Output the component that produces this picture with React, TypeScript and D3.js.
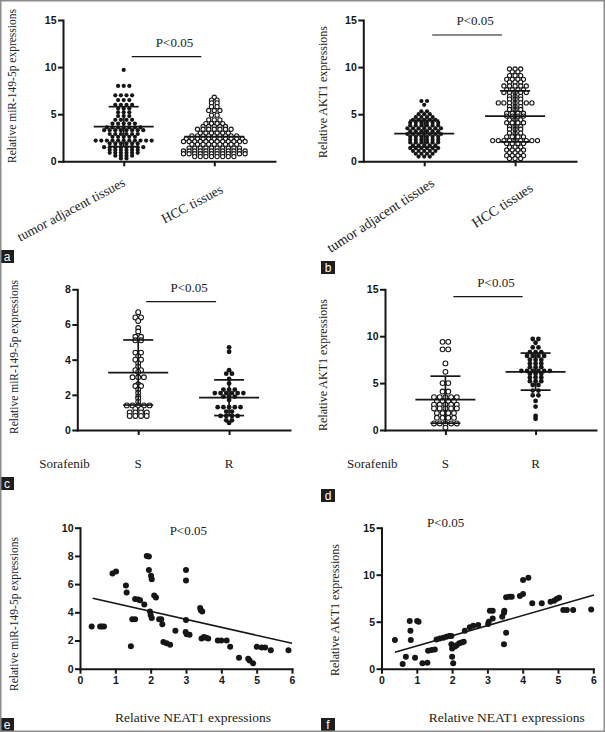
import React, { useEffect, useRef } from 'react';
import * as d3 from 'd3';

// ---- panel a / b : tissues ----
const tissueGroups = ['tumor adjacent tissues', 'HCC tissues'];

const aTumor = [
  9.7,
  8.0, 8.0, 8.0,
  7.0, 7.0, 7.0, 7.0,
  6.5, 6.5, 6.5,
  6.0, 6.0, 6.0, 6.0,
  5.6, 5.6, 5.6,
  5.2, 5.2, 5.2,
  4.8, 4.8, 4.8,
  4.4, 4.4, 4.4, 4.4,
  4.0, 4.0, 4.0, 4.0, 4.0,
  3.6, 3.6, 3.6, 3.6, 3.6, 3.6, 3.6,
  3.3, 3.3, 3.3, 3.3, 3.3, 3.3, 3.3, 3.3,
  2.9, 2.9, 2.9, 2.9, 2.9, 2.9,
  2.6, 2.6, 2.6, 2.6, 2.6,
  2.2, 2.2, 2.2, 2.2, 2.2, 2.2, 2.2, 2.2, 2.2, 2.2, 2.2,
  1.9, 1.9, 1.9, 1.9, 1.9, 1.9,
  1.5, 1.5, 1.5, 1.5, 1.5, 1.5, 1.5, 1.5,
  1.2, 1.2, 1.2, 1.2, 1.2, 1.2,
  0.9, 0.9, 0.9, 0.9, 0.9, 0.9,
  0.6, 0.6, 0.6, 0.6,
  0.3, 0.3,
];
const aHcc = [
  6.8,
  6.5, 6.5,
  6.2, 6.2,
  5.8, 5.8,
  5.4, 5.4, 5.4,
  4.9, 4.9,
  4.4, 4.4, 4.4,
  4.0, 4.0, 4.0, 4.0,
  3.7, 3.7, 3.7, 3.7, 3.7,
  3.4, 3.4, 3.4, 3.4, 3.4, 3.4, 3.4,
  3.0, 3.0, 3.0, 3.0, 3.0, 3.0,
  2.7, 2.7, 2.7, 2.7, 2.7, 2.7, 2.7, 2.7, 2.7,
  2.4, 2.4, 2.4, 2.4, 2.4, 2.4, 2.4, 2.4, 2.4, 2.4, 2.4,
  2.1, 2.1, 2.1, 2.1, 2.1, 2.1, 2.1, 2.1, 2.1, 2.1, 2.1, 2.1,
  1.8, 1.8, 1.8, 1.8, 1.8, 1.8, 1.8, 1.8, 1.8,
  1.4, 1.4, 1.4, 1.4, 1.4, 1.4, 1.4, 1.4, 1.4, 1.4,
  1.1, 1.1, 1.1, 1.1, 1.1, 1.1, 1.1, 1.1, 1.1, 1.1, 1.1, 1.1,
  0.8, 0.8, 0.8, 0.8, 0.8, 0.8, 0.8, 0.8, 0.8, 0.8, 0.8, 0.8,
  0.5, 0.5, 0.5, 0.5, 0.5, 0.5, 0.5, 0.5,
];
// mean, +SD, -SD (only mean where no bar is visible)
const aTumorStats = [3.68, 5.8, 1.56];
const aHccStats = [2.62];

const bTumor = [
  6.4, 6.4,
  6.0,
  5.3, 5.3,
  5.0, 5.0, 5.0,
  4.7, 4.7, 4.7, 4.7,
  4.4, 4.4, 4.4, 4.4, 4.4,
  4.1, 4.1, 4.1, 4.1, 4.1, 4.1,
  3.8, 3.8, 3.8, 3.8, 3.8, 3.8,
  3.5, 3.5, 3.5, 3.5, 3.5, 3.5, 3.5,
  3.2, 3.2, 3.2, 3.2, 3.2, 3.2,
  2.9, 2.9, 2.9, 2.9, 2.9, 2.9, 2.9,
  2.6, 2.6, 2.6, 2.6, 2.6, 2.6,
  2.3, 2.3, 2.3, 2.3, 2.3, 2.3,
  2.0, 2.0, 2.0, 2.0, 2.0, 2.0,
  1.7, 1.7, 1.7, 1.7, 1.7,
  1.4, 1.4, 1.4, 1.4, 1.4, 1.4,
  1.1, 1.1, 1.1, 1.1, 1.1,
  0.8, 0.8, 0.8, 0.8,
  0.5, 0.5, 0.5,
];
const bHcc = [
  9.8, 9.8, 9.8,
  9.5, 9.5,
  9.1, 9.1, 9.1,
  8.7, 8.7, 8.7, 8.7,
  8.4, 8.4, 8.4,
  8.0, 8.0, 8.0, 8.0, 8.0,
  7.6, 7.6, 7.6, 7.6,
  7.3, 7.3, 7.3, 7.3, 7.3,
  6.9, 6.9, 6.9,
  6.6, 6.6, 6.6,
  6.2, 6.2, 6.2, 6.2, 6.2, 6.2, 6.2,
  5.8, 5.8, 5.8,
  5.5, 5.5, 5.5,
  5.1, 5.1, 5.1, 5.1,
  4.8, 4.8, 4.8, 4.8,
  4.4, 4.4, 4.4,
  4.1, 4.1, 4.1, 4.1,
  3.7, 3.7, 3.7,
  3.4, 3.4, 3.4,
  3.0, 3.0, 3.0,
  2.6, 2.6, 2.6, 2.6,
  2.2, 2.2, 2.2, 2.2, 2.2, 2.2, 2.2, 2.2, 2.2,
  1.9, 1.9, 1.9, 1.9,
  1.5, 1.5, 1.5,
  1.2, 1.2, 1.2, 1.2,
  0.9, 0.9, 0.9,
  0.6, 0.6, 0.6, 0.6,
  0.3, 0.3, 0.3,
];
const bTumorStats = [2.94, 4.36, 1.52];
const bHccStats = [4.79, 7.48, 2.06];

// ---- panel c / d : sorafenib S vs R ----
const sorafenibGroups = ['S', 'R'];

const cS = [
  6.7, 6.4, 6.4, 6.2, 5.8, 5.6, 5.3, 5.3, 5.1, 5.1,
  4.4, 4.4, 4.2, 4.0, 4.0, 3.8, 3.6, 3.4, 3.4, 3.3,
  3.0, 3.0, 3.0, 2.6, 2.5, 2.5, 2.3, 2.1, 1.9, 1.8, 1.6,
  1.4, 1.4, 1.4, 1.4, 1.4,
  1.2, 1.2,
  1.0, 1.0, 1.0, 1.0,
  0.8, 0.8, 0.8, 0.8,
];
const cR = [
  4.7, 4.45, 3.4, 3.2, 3.2, 2.9, 2.65,
  2.3, 2.3, 2.3,
  2.1, 2.1, 2.1, 2.1, 2.1, 2.1,
  1.9, 1.9, 1.9,
  1.7,
  1.3, 1.3, 1.3, 1.3, 1.3,
  1.05, 1.05,
  0.8, 0.8, 0.8, 0.8,
  0.55, 0.55,
  0.4,
];
const cSStats = [3.26, 5.12, 1.42];
const cRStats = [1.84, 2.85, 0.82];

const dS = [
  9.4, 9.4, 8.6, 8.6, 7.1, 6.2, 5.0, 5.0, 4.1, 4.1,
  3.5, 3.5, 3.5, 3.5, 3.5,
  3.1, 3.1, 3.1, 3.1,
  2.7, 2.7, 2.7, 2.7, 2.7,
  2.3, 2.3, 2.3, 2.3, 2.3,
  1.8, 1.8, 1.8, 1.8,
  1.3, 1.3, 1.3, 1.3,
  0.7, 0.7, 0.7, 0.7, 0.7,
  0.25,
];
const dR = [
  9.7, 9.7, 9.3, 8.8, 8.8,
  8.3, 8.3, 8.3,
  7.9, 7.9, 7.9, 7.9,
  7.5, 7.5, 7.5,
  7.1, 7.1, 7.1,
  6.7, 6.7, 6.7,
  6.3, 6.3, 6.3, 6.3, 6.3, 6.3,
  6.0, 6.0, 6.0,
  5.6, 5.6, 5.6,
  5.2, 5.2, 5.2,
  4.8, 4.8,
  4.2, 4.2,
  3.7, 3.7,
  3.1, 2.5, 1.5, 1.2,
];
const dSStats = [3.23, 5.74, 0.73];
const dRStats = [6.2, 8.2, 4.25];

// ---- panel e / f : correlation with NEAT1 ----
const eNeat = [
  0.33, 0.57, 0.62, 0.68, 0.92, 1.02, 1.3, 1.32, 1.44, 1.48, 1.56, 1.56, 1.65, 1.7, 1.82,
  1.89, 1.95, 1.95, 2.01, 2.03, 1.98, 2.0, 2.03, 2.1, 2.15, 2.24, 2.3, 2.33, 2.36, 2.45,
  2.55, 2.7, 3.0, 3.0, 3.0, 2.99, 3.02, 3.1, 3.4, 3.42, 3.46, 3.44, 3.51, 3.57, 3.63,
  3.9, 4.0, 4.15, 4.25, 4.5, 4.76, 4.8, 4.9, 5.0, 5.14, 5.24, 5.4, 5.9,
];
const eMir = [
  3.0, 3.0, 3.0, 3.0, 6.75, 6.9, 5.9, 5.4, 1.6, 3.5, 3.5, 4.95, 4.9, 4.85, 4.55,
  8.0, 7.95, 7.0, 6.6, 6.35, 4.05, 3.8, 3.6, 5.2, 5.05, 3.5, 3.5, 3.15, 1.9, 1.8,
  1.7, 2.7, 7.0, 6.25, 3.45, 2.6, 2.45, 2.4, 4.3, 4.15, 4.05, 2.15, 2.25, 2.2, 2.15,
  2.0, 2.0, 2.0, 1.55, 0.78, 0.7, 0.58, 0.38, 1.55, 1.5, 1.5, 1.3, 1.3,
];
const eFit = [[0.36, 4.99], [6.0, 1.8]];

const fNeat = [
  0.38, 0.6, 0.69, 0.8, 0.82, 0.83, 0.95, 1.01, 1.05, 1.16, 1.3, 1.32, 1.42, 1.51, 1.56,
  1.65, 1.75, 1.84, 1.92, 1.98, 1.98, 2.0, 2.0, 2.03, 2.08, 2.13, 2.2, 2.27, 2.33, 2.36,
  2.5, 2.6, 2.74, 3.02, 3.04, 3.07, 3.15, 3.15, 3.42, 3.47, 3.48, 3.47, 3.53, 3.53, 3.62,
  3.69, 3.92, 4.01, 4.01, 4.16, 4.27, 4.54, 4.79, 4.89, 4.96, 5.03, 5.15, 5.25, 5.43, 5.94,
];
const fAkt = [
  3.05, 0.5, 1.28, 5.07, 4.04, 3.05, 1.17, 5.07, 5.0, 0.57, 0.64, 1.9, 1.98, 2.05, 3.1,
  3.2, 3.3, 3.4, 3.47, 3.47, 2.6, 2.15, 1.28, 0.57, 2.35, 2.5, 2.7, 2.8, 2.87, 4.04,
  4.4, 4.57, 4.65, 4.75, 5.0, 6.17, 6.17, 5.35, 5.53, 5.96, 6.17, 2.59, 3.83, 7.59, 7.66,
  7.66, 7.73, 7.94, 9.43, 9.68, 6.95, 6.95, 7.13, 7.23, 7.41, 7.55, 6.24, 6.24, 6.24, 6.31,
];
const fFit = [[0.38, 1.74], [6.02, 7.84]];

const neatTicks = [0, 1, 2, 3, 4, 5, 6];
const panelLetters = ['a', 'b', 'c', 'd', 'e', 'f'];

const SERIF = '"Liberation Serif", "Times New Roman", serif';
const SANS = '"Liberation Sans", Arial, sans-serif';
const INK = '#161616';

type Sel = d3.Selection<SVGSVGElement, unknown, null, undefined>;

function styleAxis(g: any) {
  g.attr('font-family', SANS).attr('font-size', 10.5).attr('font-weight', 700);
  g.select('.domain').attr('stroke', INK).attr('stroke-width', 2).attr('stroke-linecap', 'square');
  g.selectAll('.tick line').attr('stroke', INK).attr('stroke-width', 2);
  g.selectAll('.tick text').attr('fill', INK);
}

function yTitle(svg: Sel, text: string, cx: number, cy: number, size: number) {
  svg.append('g')
    .attr('transform', `translate(${cx},${cy})`)
    .append('text')
    .attr('transform', 'rotate(-90)')
    .attr('dy', '0.35em')
    .attr('text-anchor', 'middle')
    .attr('font-family', SERIF)
    .attr('font-size', size)
    .attr('fill', '#222')
    .text(text);
}

function drawDotPanel(svg: Sel, p: any) {
  const x = d3.scalePoint<string>().domain(p.cats).range([p.x0, p.x1]).padding(0.67);
  const y = d3.scaleLinear().domain([0, p.yMax]).range([p.yBottom, p.yTop]);

  // dots, rows of equal value spread sideways like a GraphPad scatter dot plot
  p.groups.forEach((grp: any, gi: number) => {
    const cx = x(p.cats[gi])!;
    const pts = d3.groups(grp.values as number[], v => v).flatMap(([v, list]) =>
      list.map((_, i) => ({ x: cx + (i - (list.length - 1) / 2) * p.spacing, y: y(v) })));
    svg.append('g')
      .selectAll('circle')
      .data(pts)
      .join('circle')
      .attr('cx', d => d.x)
      .attr('cy', d => d.y)
      .attr('r', p.r)
      .attr('fill', grp.open ? '#fff' : INK)
      .attr('stroke', grp.open ? INK : 'none')
      .attr('stroke-width', 1.1);
  });

  // mean +/- SD
  p.groups.forEach((grp: any, gi: number) => {
    const cx = x(p.cats[gi])!;
    const [m, hi, lo] = grp.stats;
    const s = svg.append('g').attr('stroke', INK).attr('stroke-width', 1.7);
    s.append('line').attr('x1', cx - 30).attr('x2', cx + 30).attr('y1', y(m)).attr('y2', y(m));
    if (hi !== undefined) {
      s.append('line').attr('x1', cx).attr('x2', cx).attr('y1', y(hi)).attr('y2', y(lo));
      s.append('line').attr('x1', cx - 15).attr('x2', cx + 15).attr('y1', y(hi)).attr('y2', y(hi));
      s.append('line').attr('x1', cx - 15).attr('x2', cx + 15).attr('y1', y(lo)).attr('y2', y(lo));
    }
  });

  // axes
  svg.append('g')
    .attr('transform', `translate(${p.x0},0)`)
    .call(d3.axisLeft(y).tickValues(p.yTicks).tickSize(5).tickSizeOuter(0).tickPadding(1.5))
    .call(styleAxis);
  svg.append('g')
    .attr('transform', `translate(0,${p.yBottom})`)
    .call(d3.axisBottom(x).tickSize(5).tickSizeOuter(0).tickFormat(() => ''))
    .call(styleAxis);

  yTitle(svg, p.yTitle, p.yTitleX, p.yTitleY, p.yTitleSize);

  // significance bracket
  const lx1 = x(p.cats[0])! + 8;
  const lx2 = x(p.cats[1])! - 13;
  svg.append('line')
    .attr('x1', lx1).attr('x2', lx2).attr('y1', p.pY).attr('y2', p.pY)
    .attr('stroke', INK).attr('stroke-width', 1.2);
  svg.append('text')
    .attr('x', (lx1 + lx2) / 2 + 8)
    .attr('y', p.pY - 10)
    .attr('text-anchor', 'middle')
    .attr('font-family', SERIF)
    .attr('font-size', 13)
    .attr('fill', '#222')
    .text('P<0.05');

  // category labels
  if (p.rotate) {
    p.cats.forEach((c: string, i: number) => {
      const [dx, dy] = p.labelOffsets[i];
      svg.append('g')
        .attr('transform', `translate(${x(c)! + dx},${p.yBottom + dy})`)
        .append('text')
        .attr('transform', `rotate(${-p.rotate})`)
        .attr('text-anchor', 'end')
        .attr('font-family', SERIF)
        .attr('font-size', p.labelSize)
        .attr('fill', '#222')
        .text(c);
    });
  } else {
    p.cats.forEach((c: string) => {
      svg.append('text')
        .attr('x', x(c)!)
        .attr('y', 468)
        .attr('text-anchor', 'middle')
        .attr('font-family', SERIF)
        .attr('font-size', 13)
        .attr('fill', '#222')
        .text(c);
    });
    svg.append('text')
      .attr('x', p.x0 - 38)
      .attr('y', 468)
      .attr('font-family', SERIF)
      .attr('font-size', 13)
      .attr('fill', '#222')
      .text('Sorafenib');
  }
}

function drawScatter(svg: Sel, p: any) {
  const x = d3.scaleLinear().domain([0, 6]).range([p.x0, p.x1]);
  const y = d3.scaleLinear().domain([0, p.yMax]).range([p.yBottom, p.yTop]);
  const pts = d3.zip(p.xs as number[], p.ys as number[]);

  svg.append('g')
    .selectAll('circle')
    .data(pts)
    .join('circle')
    .attr('cx', d => x(d[0]))
    .attr('cy', d => y(d[1]))
    .attr('r', 3)
    .attr('fill', INK);

  svg.append('path')
    .datum(p.fit as [number, number][])
    .attr('d', d3.line<[number, number]>().x(d => x(d[0])).y(d => y(d[1])))
    .attr('stroke', INK)
    .attr('stroke-width', 1.6)
    .attr('fill', 'none');

  svg.append('g')
    .attr('transform', `translate(${p.x0},0)`)
    .call(d3.axisLeft(y).tickValues(p.yTicks).tickSize(5).tickSizeOuter(0).tickPadding(1.5))
    .call(styleAxis);
  svg.append('g')
    .attr('transform', `translate(0,${p.yBottom})`)
    .call(d3.axisBottom(x).tickValues(neatTicks).tickSize(5).tickSizeOuter(0).tickPadding(3).tickFormat(d3.format('d')))
    .call(styleAxis);

  yTitle(svg, p.yTitle, p.yTitleX, p.yTitleY, p.yTitleSize);

  svg.append('text')
    .attr('x', p.pX)
    .attr('y', p.pY)
    .attr('text-anchor', 'middle')
    .attr('font-family', SERIF)
    .attr('font-size', 13)
    .attr('fill', '#222')
    .text('P<0.05');

  svg.append('text')
    .attr('x', p.xTitleX)
    .attr('y', 721.5)
    .attr('text-anchor', 'middle')
    .attr('font-family', SERIF)
    .attr('font-size', 13.5)
    .attr('fill', '#222')
    .text('Relative NEAT1 expressions');
}

const App: React.FC = () => {
  const svgRef = useRef<SVGSVGElement>(null);

  useEffect(() => {
    if (!svgRef.current) return;
    const svg = d3.select(svgRef.current);
    svg.selectAll('*').remove();

    svg.append('rect').attr('width', 605).attr('height', 732).attr('fill', '#fff');

    drawDotPanel(svg, {
      x0: 63, x1: 275, yTop: 20, yBottom: 161.3, yMax: 15, yTicks: [0, 5, 10, 15],
      cats: tissueGroups,
      groups: [
        { values: aTumor, open: false, stats: aTumorStats },
        { values: aHcc, open: true, stats: aHccStats },
      ],
      r: 2.1, spacing: 5.6,
      yTitle: 'Relative miR-149-5p expressions', yTitleX: 12, yTitleY: 86, yTitleSize: 11.5,
      pY: 56.7,
      rotate: 28, labelSize: 13.5, labelOffsets: [[2.5, 24], [9.5, 31]],
    });

    drawDotPanel(svg, {
      x0: 363.3, x1: 576, yTop: 20, yBottom: 161.3, yMax: 15, yTicks: [0, 5, 10, 15],
      cats: tissueGroups,
      groups: [
        { values: bTumor, open: false, stats: bTumorStats },
        { values: bHcc, open: true, stats: bHccStats },
      ],
      r: 2.1, spacing: 5.6,
      yTitle: 'Relative AKT1 expressions', yTitleX: 323, yTitleY: 92, yTitleSize: 12,
      pY: 35,
      rotate: 33, labelSize: 14, labelOffsets: [[11, 24], [19, 29]],
    });

    drawDotPanel(svg, {
      x0: 77.3, x1: 290, yTop: 289.3, yBottom: 430, yMax: 8, yTicks: [0, 2, 4, 6, 8],
      cats: sorafenibGroups,
      groups: [
        { values: cS, open: true, stats: cSStats },
        { values: cR, open: false, stats: cRStats },
      ],
      r: 2.4, spacing: 5.7,
      yTitle: 'Relative miR-149-5p expressions', yTitleX: 14, yTitleY: 357, yTitleSize: 11.5,
      pY: 301.7,
    });

    drawDotPanel(svg, {
      x0: 385, x1: 596, yTop: 289.3, yBottom: 430, yMax: 15, yTicks: [0, 5, 10, 15],
      cats: sorafenibGroups,
      groups: [
        { values: dS, open: true, stats: dSStats },
        { values: dR, open: false, stats: dRStats },
      ],
      r: 2.4, spacing: 5.7,
      yTitle: 'Relative AKT1 expressions', yTitleX: 323, yTitleY: 365, yTitleSize: 12,
      pY: 296.7,
    });

    drawScatter(svg, {
      x0: 80, x1: 292, yTop: 527.7, yBottom: 668.7, yMax: 10, yTicks: [0, 2, 4, 6, 8, 10],
      xs: eNeat, ys: eMir, fit: eFit,
      yTitle: 'Relative miR-149-5p expressions', yTitleX: 14, yTitleY: 614, yTitleSize: 11.5,
      pX: 188.3, pY: 535, xTitleX: 193,
    });

    drawScatter(svg, {
      x0: 381.5, x1: 593.3, yTop: 527.7, yBottom: 668.7, yMax: 15, yTicks: [0, 5, 10, 15],
      xs: fNeat, ys: fAkt, fit: fFit,
      yTitle: 'Relative AKT1 expressions', yTitleX: 335, yTitleY: 610, yTitleSize: 12,
      pX: 445.7, pY: 526.7, xTitleX: 506.7,
    });

    // panel letters
    const boxes = [[0, 250], [321, 261], [0, 477], [321, 489], [0, 718], [321, 718]];
    panelLetters.forEach((l, i) => {
      const [bx, by] = boxes[i];
      svg.append('rect').attr('x', bx).attr('y', by).attr('width', 14).attr('height', 13).attr('fill', '#1e1e1e');
      svg.append('text')
        .attr('x', bx + 7).attr('y', by + 10.5)
        .attr('text-anchor', 'middle')
        .attr('font-family', SANS)
        .attr('font-size', 12)
        .attr('fill', '#fff')
        .text(l);
    });

    // outer frame
    svg.append('rect')
      .attr('x', 0.75).attr('y', 0.75).attr('width', 603.5).attr('height', 730.5)
      .attr('fill', 'none').attr('stroke', '#8c8c8c').attr('stroke-width', 1.5);
  }, []);

  return <svg ref={svgRef} width={605} height={732} style={{ position: 'absolute', left: 0, top: 0 }} />;
};

export default App;
